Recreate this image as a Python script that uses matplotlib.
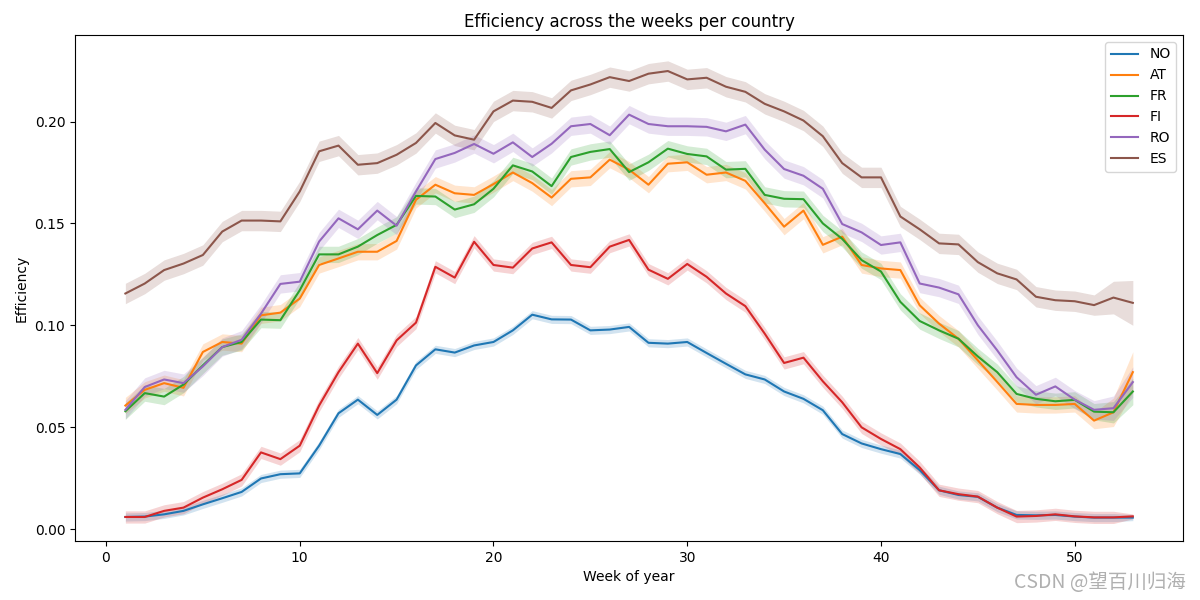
import numpy as np
import matplotlib
matplotlib.use("Agg")
import matplotlib.pyplot as plt

# weekly efficiency per country
weeks = list(range(1, 54))
countries = ["NO", "AT", "FR", "FI", "RO", "ES"]

eff_no = [0.0059, 0.0061, 0.0072, 0.0089, 0.0121, 0.0151, 0.0182, 0.0248, 0.0269, 0.0273,
          0.0409, 0.0568, 0.0635, 0.0560, 0.0635, 0.0803, 0.0882, 0.0866, 0.0901, 0.0918,
          0.0975, 0.1052, 0.1029, 0.1028, 0.0975, 0.0979, 0.0992, 0.0914, 0.0910, 0.0918,
          0.0864, 0.0811, 0.0759, 0.0734, 0.0675, 0.0639, 0.0583, 0.0466, 0.0420, 0.0392,
          0.0368, 0.0289, 0.0190, 0.0167, 0.0158, 0.0105, 0.0069, 0.0067, 0.0069, 0.0061,
          0.0056, 0.0056, 0.0056]
eff_at = [0.0606, 0.0683, 0.0716, 0.0693, 0.0869, 0.0918, 0.0910, 0.1049, 0.1062, 0.1131,
          0.1296, 0.1328, 0.1361, 0.1361, 0.1414, 0.1616, 0.1690, 0.1648, 0.1640, 0.1693,
          0.1750, 0.1698, 0.1627, 0.1719, 0.1726, 0.1813, 0.1764, 0.1690, 0.1793, 0.1800,
          0.1739, 0.1750, 0.1709, 0.1599, 0.1484, 0.1563, 0.1395, 0.1435, 0.1296, 0.1279,
          0.1271, 0.1098, 0.1008, 0.0934, 0.0828, 0.0722, 0.0614, 0.0609, 0.0609, 0.0614,
          0.0532, 0.0573, 0.0770]
eff_fr = [0.0578, 0.0667, 0.0650, 0.0709, 0.0803, 0.0893, 0.0918, 0.1028, 0.1025, 0.1172,
          0.1348, 0.1348, 0.1386, 0.1443, 0.1493, 0.1635, 0.1632, 0.1568, 0.1594, 0.1670,
          0.1785, 0.1755, 0.1683, 0.1826, 0.1851, 0.1865, 0.1752, 0.1800, 0.1867, 0.1841,
          0.1829, 0.1764, 0.1768, 0.1640, 0.1621, 0.1619, 0.1500, 0.1424, 0.1320, 0.1264,
          0.1115, 0.1021, 0.0975, 0.0934, 0.0847, 0.0770, 0.0663, 0.0639, 0.0627, 0.0634,
          0.0576, 0.0573, 0.0675]
eff_fi = [0.0059, 0.0059, 0.0089, 0.0105, 0.0154, 0.0195, 0.0241, 0.0376, 0.0343, 0.0409,
          0.0606, 0.0770, 0.0910, 0.0765, 0.0926, 0.1013, 0.1287, 0.1234, 0.1410, 0.1296,
          0.1283, 0.1377, 0.1407, 0.1296, 0.1285, 0.1386, 0.1419, 0.1273, 0.1228, 0.1301,
          0.1238, 0.1156, 0.1094, 0.0959, 0.0815, 0.0841, 0.0725, 0.0622, 0.0499, 0.0442,
          0.0392, 0.0302, 0.0190, 0.0171, 0.0159, 0.0105, 0.0061, 0.0064, 0.0072, 0.0062,
          0.0057, 0.0057, 0.0062]
eff_ro = [0.0585, 0.0697, 0.0734, 0.0716, 0.0798, 0.0893, 0.0929, 0.1057, 0.1203, 0.1214,
          0.1411, 0.1525, 0.1471, 0.1563, 0.1489, 0.1657, 0.1816, 0.1846, 0.1890, 0.1842,
          0.1898, 0.1826, 0.1891, 0.1977, 0.1988, 0.1933, 0.2034, 0.1988, 0.1977, 0.1977,
          0.1974, 0.1952, 0.1985, 0.1862, 0.1767, 0.1734, 0.1670, 0.1497, 0.1456, 0.1394,
          0.1407, 0.1205, 0.1185, 0.1152, 0.1000, 0.0877, 0.0745, 0.0659, 0.0700, 0.0635,
          0.0585, 0.0593, 0.0721]
eff_es = [0.1156, 0.1205, 0.1271, 0.1303, 0.1345, 0.1460, 0.1514, 0.1514, 0.1510, 0.1657,
          0.1854, 0.1882, 0.1788, 0.1796, 0.1837, 0.1895, 0.1993, 0.1932, 0.1911, 0.2050,
          0.2103, 0.2097, 0.2067, 0.2153, 0.2182, 0.2218, 0.2199, 0.2235, 0.2248, 0.2207,
          0.2215, 0.2171, 0.2146, 0.2087, 0.2050, 0.2005, 0.1928, 0.1796, 0.1726, 0.1726,
          0.1534, 0.1471, 0.1402, 0.1397, 0.1310, 0.1255, 0.1225, 0.1140, 0.1123, 0.1118,
          0.1099, 0.1136, 0.1110]

# half width of the confidence band (typical, and at the last week)
ci_half = [0.0020, 0.0040, 0.0040, 0.0030, 0.0045, 0.0050]
ci_last = [0.0015, 0.0100, 0.0065, 0.0012, 0.0075, 0.0110]

series = [eff_no, eff_at, eff_fr, eff_fi, eff_ro, eff_es]
colors = ["#1f77b4", "#ff7f0e", "#2ca02c", "#d62728", "#9467bd", "#8c564b"]

fig = plt.figure(figsize=(12, 6), dpi=100)
ax = fig.add_axes([0.0625, 0.0983, 0.9235, 0.8434])

x = np.array(weeks)
for name, vals, c, h, hl in zip(countries, series, colors, ci_half, ci_last):
    y = np.array(vals)
    half = np.full(len(y), h)
    half[-1] = hl
    half[-2] = (h + hl) / 2 if hl > h else h
    ax.fill_between(x, y - half, y + half, color=c, alpha=0.2, linewidth=0)
    ax.plot(x, y, color=c, linewidth=1.5, label=name)

ax.set_xlim(-1.6, 55.6)
ax.set_ylim(-0.0059, 0.2425)
ax.set_yticks([0.0, 0.05, 0.10, 0.15, 0.20])
ax.set_title("Efficiency across the weeks per country")
ax.set_xlabel("Week of year")
ax.set_ylabel("Efficiency")
ax.legend(loc="upper right")

fig.text(0.988, 0.012, "CSDN @望百川归海", ha="right", va="bottom", fontsize=14,
         color="#b0b0b0", family=["Noto Sans CJK SC", "DejaVu Sans"])

plt.savefig("out.png")
